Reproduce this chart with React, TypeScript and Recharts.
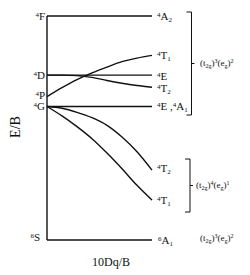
import { LineChart, Line, XAxis, YAxis } from 'recharts';

// 10Dq/B sample points and the E/B values
const dq = [0, 5, 10, 15, 20, 25, 30, 35];
const t1Upper = [32.0, 34.0, 35.8, 37.3, 38.6, 39.8, 40.6, 41.2];
const t2Upper = [36.8, 36.8, 36.7, 36.3, 35.6, 35.0, 34.5, 34.1];
const t2Lower = [29.8, 29.4, 28.5, 27.3, 25.6, 23.0, 19.7, 15.6];
const t1Lower = [29.8, 27.7, 25.3, 22.6, 19.4, 15.9, 12.2, 8.9];

// free-ion terms (left) and flat field levels
const freeIons = [
  { mult: '4', letter: 'F', e: 50 },
  { mult: '4', letter: 'D', e: 36.8 },
  { mult: '4', letter: 'P', e: 32.0 },
  { mult: '4', letter: 'G', e: 29.8 },
  { mult: '6', letter: 'S', e: 0 },
];
const flatLevels = [50, 36.8, 29.8];

const X_MAX = 35;
const Y_MAX = 50;
const PLOT = { left: 47, top: 16, width: 105, height: 224 };
const py = (e: number) => PLOT.top + PLOT.height - (e / Y_MAX) * PLOT.height;

const SERIF = '"Liberation Serif", "Times New Roman", serif';
const INK = '#111';

const series = (ys: number[]) => dq.map((x, i) => ({ x, e: ys[i] }));
const flat = (e: number) => [{ x: 0, e }, { x: X_MAX, e }];

function Term({ x, y, mult, letter, sub, anchor = 'start' }: {
  x: number; y: number; mult: string; letter: string; sub?: string; anchor?: 'start' | 'end';
}) {
  return (
    <text x={x} y={y + 4} fontSize={11} textAnchor={anchor} fill={INK} fontFamily={SERIF}>
      <tspan fontSize={7} dy={-3}>{mult}</tspan>
      <tspan dy={3}>{letter}</tspan>
      {sub && <tspan fontSize={7} dy={2}>{sub}</tspan>}
    </text>
  );
}

function Config({ x, y, t, e }: { x: number; y: number; t: string; e: string }) {
  return (
    <text x={x} y={y + 3} fontSize={9} fill={INK} fontFamily={SERIF}>
      (t<tspan fontSize={6} dy={2}>2g</tspan>
      <tspan dy={-2}>)</tspan>
      <tspan fontSize={6} dy={-3}>{t}</tspan>
      <tspan dy={3}>(e</tspan>
      <tspan fontSize={6} dy={2}>g</tspan>
      <tspan dy={-2}>)</tspan>
      <tspan fontSize={6} dy={-3}>{e}</tspan>
    </text>
  );
}

function Bracket({ x, top, bottom }: { x: number; top: number; bottom: number }) {
  const mid = (top + bottom) / 2;
  return (
    <path
      d={`M${x - 5},${top} H${x} V${bottom} H${x - 5} M${x},${mid} H${x + 3}`}
      stroke={INK} strokeWidth={1} fill="none"
    />
  );
}

export default function App() {
  const lineProps = { type: 'monotone' as const, dataKey: 'e', stroke: INK, strokeWidth: 1.4, dot: false, isAnimationActive: false };
  return (
    <div style={{ position: 'absolute', left: 0, top: 0, width: 250, height: 275, background: '#fff' }}>
      <LineChart
        width={250} height={275}
        margin={{ top: PLOT.top, left: PLOT.left, right: 250 - PLOT.left - PLOT.width, bottom: 275 - PLOT.top - PLOT.height }}
      >
        <XAxis
          type="number" dataKey="x" domain={[0, X_MAX]} ticks={[15, 30]}
          mirror tick={false} tickSize={4} tickLine={{ stroke: INK, strokeWidth: 1 }}
          axisLine={{ stroke: INK, strokeWidth: 1.4 }}
        />
        <YAxis
          type="number" dataKey="e" domain={[0, Y_MAX]} ticks={[10, 20, 30, 40]}
          mirror tick={false} tickSize={4} tickLine={{ stroke: INK, strokeWidth: 1 }}
          axisLine={{ stroke: INK, strokeWidth: 1.4 }}
        />
        {flatLevels.map((e) => (
          <Line key={e} {...lineProps} type="linear" data={flat(e)} />
        ))}
        <Line {...lineProps} data={series(t1Upper)} />
        <Line {...lineProps} data={series(t2Upper)} />
        <Line {...lineProps} data={series(t2Lower)} />
        <Line {...lineProps} data={series(t1Lower)} />
      </LineChart>

      <svg width={250} height={275} style={{ position: 'absolute', left: 0, top: 0, pointerEvents: 'none' }}>
        {freeIons.map((t) => (
          <Term
            key={t.letter}
            x={t.letter === 'S' ? 40 : 45}
            y={t.letter === 'S' ? py(t.e) - 3 : t.letter === 'P' ? py(t.e) - 1.5 : py(t.e)}
            mult={t.mult} letter={t.letter} anchor="end"
          />
        ))}
        <Term x={157} y={py(50)} mult="4" letter="A" sub="2" />
        <Term x={157} y={py(t1Upper[7])} mult="4" letter="T" sub="1" />
        <Term x={157} y={py(36.8) + 1} mult="4" letter="E" />
        <Term x={157} y={py(t2Upper[7]) + 1} mult="4" letter="T" sub="2" />
        <text x={157} y={py(29.8) + 4} fontSize={11} fill={INK} fontFamily={SERIF}>
          <tspan fontSize={7} dy={-3}>4</tspan>
          <tspan dy={3}>E ,</tspan>
          <tspan fontSize={7} dy={-3}>4</tspan>
          <tspan dy={3}>A</tspan>
          <tspan fontSize={7} dy={2}>1</tspan>
        </text>
        <Term x={157} y={py(t2Lower[7]) - 2} mult="4" letter="T" sub="2" />
        <Term x={157} y={py(t1Lower[7])} mult="4" letter="T" sub="1" />
        <Term x={158} y={py(0)} mult="6" letter="A" sub="1" />

        <Bracket x={191.5} top={12} bottom={115} />
        <Config x={200} y={63} t="3" e="2" />
        <Bracket x={190} top={159} bottom={212} />
        <Config x={196} y={185} t="4" e="1" />
        <Config x={200} y={238} t="3" e="2" />

        <text x={0} y={0} transform="translate(20,127) rotate(-90)" fontSize={14} textAnchor="middle" fill={INK} fontFamily={SERIF}>E/B</text>
        <text x={111} y={266} fontSize={12} textAnchor="middle" fill={INK} fontFamily={SERIF}>10Dq/B</text>
      </svg>
    </div>
  );
}
